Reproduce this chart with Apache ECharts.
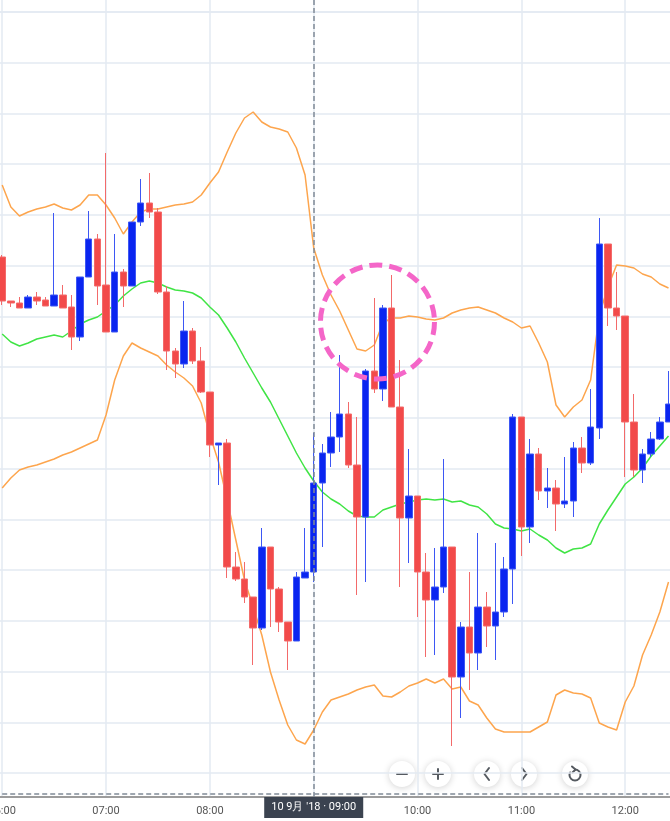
<!DOCTYPE html>
<html>
<head>
<meta charset="utf-8">
<script src="https://cdn.jsdelivr.net/npm/echarts@6/dist/echarts.min.js"></script>
<style>
html,body{margin:0;padding:0;background:#fff;}
#main{width:670px;height:821px;}
</style>
</head>
<body>
<div id="main"></div>
<script>
const categories = [
'06:00','06:05','06:10','06:15','06:20','06:25','06:30','06:35','06:40','06:45','06:50','06:55',
'07:00','07:05','07:10','07:15','07:20','07:25','07:30','07:35','07:40','07:45','07:50','07:55',
'08:00','08:05','08:10','08:15','08:20','08:25','08:30','08:35','08:40','08:45','08:50','08:55',
'09:00','09:05','09:10','09:15','09:20','09:25','09:30','09:35','09:40','09:45','09:50','09:55',
'10:00','10:05','10:10','10:15','10:20','10:25','10:30','10:35','10:40','10:45','10:50','10:55',
'11:00','11:05','11:10','11:15','11:20','11:25','11:30','11:35','11:40','11:45','11:50','11:55',
'12:00','12:05','12:10','12:15','12:20','12:25'];

const opens = [111.743,111.699,111.697,111.692,111.703,111.700,111.694,111.705,111.693,111.663,
111.723,111.761,111.715,111.668,111.728,111.714,111.778,111.797,111.788,111.708,
111.649,111.636,111.669,111.639,111.608,111.555,111.557,111.433,111.421,111.403,
111.372,111.453,111.411,111.378,111.359,111.422,111.428,111.517,111.547,111.563,
111.586,111.535,111.483,111.629,111.611,111.692,111.593,111.482,111.504,111.428,
111.400,111.413,111.453,111.323,111.373,111.347,111.393,111.374,111.388,111.431,
111.583,111.473,111.546,111.509,111.512,111.496,111.499,111.552,111.537,111.572,
111.756,111.692,111.684,111.578,111.530,111.546,111.561,111.578];

const closes = [111.699,111.697,111.692,111.703,111.699,111.694,111.705,111.692,111.663,111.723,
111.761,111.714,111.668,111.728,111.714,111.778,111.797,111.788,111.708,111.649,
111.636,111.669,111.639,111.608,111.555,111.557,111.433,111.421,111.403,111.372,
111.453,111.411,111.378,111.359,111.423,111.428,111.517,111.547,111.563,111.586,
111.535,111.483,111.629,111.611,111.692,111.593,111.482,111.504,111.428,111.400,
111.413,111.453,111.323,111.373,111.347,111.393,111.374,111.388,111.431,111.583,
111.473,111.546,111.509,111.512,111.496,111.499,111.552,111.537,111.573,111.756,
111.692,111.684,111.578,111.530,111.546,111.561,111.578,111.596];

const highs = [111.745,111.699,111.703,111.705,111.708,111.703,111.787,111.715,111.705,111.723,
111.789,111.766,111.847,111.766,111.731,111.778,111.821,111.827,111.792,111.714,
111.652,111.699,111.672,111.653,111.608,111.557,111.561,111.448,111.438,111.403,
111.472,111.453,111.413,111.378,111.428,111.472,111.567,111.556,111.588,111.645,
111.598,111.583,111.631,111.702,111.695,111.725,111.640,111.551,111.504,111.447,
111.452,111.541,111.453,111.378,111.428,111.467,111.408,111.457,111.443,111.586,
111.583,111.561,111.552,111.532,111.520,111.543,111.558,111.563,111.611,111.782,
111.756,111.728,111.684,111.606,111.551,111.568,111.583,111.629];

const lows = [111.695,111.693,111.692,111.692,111.695,111.694,111.694,111.692,111.650,111.659,
111.723,111.695,111.668,111.668,111.693,111.714,111.774,111.782,111.706,111.630,
111.622,111.632,111.636,111.607,111.543,111.515,111.422,111.419,111.397,111.335,
111.370,111.373,111.368,111.330,111.359,111.422,111.418,111.453,111.533,111.548,
111.532,111.405,111.418,111.607,111.599,111.593,111.413,111.437,111.383,111.343,
111.345,111.407,111.254,111.282,111.310,111.330,111.353,111.340,111.383,111.396,
111.444,111.457,111.500,111.492,111.469,111.492,111.483,111.527,111.535,111.561,
111.674,111.670,111.523,111.523,111.517,111.543,111.560,111.578];

const upperBand = [111.815,111.793,111.784,111.788,111.791,111.793,111.796,111.792,111.790,111.795,
111.805,111.805,111.795,111.782,111.766,111.778,111.788,111.791,111.791,111.793,
111.795,111.796,111.798,111.805,111.817,111.828,111.848,111.867,111.882,111.888,
111.878,111.873,111.871,111.868,111.852,111.825,111.752,111.725,111.705,111.689,
111.670,111.651,111.649,111.655,111.677,111.682,111.682,111.684,111.683,111.681,
111.680,111.682,111.687,111.690,111.692,111.693,111.690,111.687,111.682,111.678,
111.672,111.674,111.657,111.638,111.595,111.583,111.593,111.600,111.620,111.685,
111.713,111.735,111.734,111.732,111.726,111.723,111.716,111.712];

const middleBand = [111.666,111.658,111.654,111.657,111.661,111.663,111.665,111.663,111.669,111.676,
111.680,111.683,111.689,111.695,111.704,111.711,111.717,111.719,111.717,111.713,
111.710,111.709,111.707,111.702,111.693,111.685,111.672,111.658,111.642,111.627,
111.612,111.598,111.581,111.564,111.547,111.532,111.519,111.508,111.501,111.496,
111.489,111.484,111.483,111.483,111.490,111.493,111.496,111.498,111.500,111.501,
111.500,111.501,111.498,111.499,111.495,111.493,111.486,111.476,111.472,111.471,
111.469,111.471,111.465,111.460,111.452,111.447,111.451,111.452,111.456,111.476,
111.490,111.503,111.516,111.523,111.532,111.544,111.554,111.564];

const lowerBand = [111.512,111.522,111.530,111.533,111.535,111.538,111.541,111.545,111.548,111.552,
111.556,111.560,111.585,111.620,111.644,111.657,111.652,111.648,111.644,111.635,
111.628,111.622,111.614,111.597,111.565,111.538,111.500,111.460,111.420,111.393,
111.365,111.328,111.300,111.275,111.260,111.256,111.270,111.288,111.300,111.303,
111.306,111.310,111.313,111.315,111.304,111.303,111.308,111.314,111.317,111.321,
111.317,111.321,111.311,111.313,111.299,111.295,111.282,111.271,111.268,111.268,
111.268,111.268,111.273,111.278,111.305,111.310,111.307,111.306,111.302,111.277,
111.273,111.270,111.298,111.314,111.345,111.365,111.388,111.418];

const crosshairIndex = 36;
const crosshairLabel = "10 9月 '18 · 09:00";
const highlight = { index: 43.37, price: 111.678 };

const priceMin = 111.227, priceMax = 111.988, priceStep = 0.0507333333333;

const candleData = categories.map((c, i) => [opens[i], closes[i], lows[i], highs[i]]);

const chart = echarts.init(document.getElementById('main'), null, {renderer: 'canvas'});

const gridColor = '#e3eaf2';

function button(x, y, children) {
  return {
    type: 'group', x: x, y: y, z: 200,
    children: [{
      type: 'circle', shape: {cx: 0, cy: 0, r: 13},
      style: {fill: '#fff', shadowBlur: 7, shadowColor: 'rgba(0,0,0,0.18)', shadowOffsetY: 1}
    }].concat(children)
  };
}
const iconStyle = {stroke: '#555a60', lineWidth: 2, fill: null, lineCap: 'round', lineJoin: 'round'};

chart.setOption({
  animation: false,
  backgroundColor: '#fff',
  grid: [
    {left: 2.2, right: 1.5, top: 0, bottom: 24, containLabel: false, outerBoundsMode: 'none'},
    {left: -2.13, right: -2.83, top: 12, bottom: 48, containLabel: false, outerBoundsMode: 'none'}
  ],
  xAxis: [
    {
      type: 'category', gridIndex: 0, data: categories, boundaryGap: false,
      axisLine: {show: false}, axisTick: {show: false},
      axisLabel: {interval: 11, color: '#555', fontSize: 11, fontFamily: 'Roboto', margin: 9},
      splitLine: {show: true, interval: 11, lineStyle: {color: gridColor, width: 1.5}},
      axisPointer: {
        show: true, status: 'show', value: crosshairIndex, type: 'line', snap: false,
        triggerTooltip: false,
        lineStyle: {color: '#808a96', width: 1.5, type: [5, 3]},
        label: {
          show: true, formatter: function () { return crosshairLabel; },
          backgroundColor: '#3b4350', color: '#fff', fontSize: 11, fontFamily: 'Roboto',
          padding: [5, 7, 5, 7], margin: 0, borderRadius: 0
        }
      }
    },
    {
      type: 'category', gridIndex: 1, data: categories, boundaryGap: true,
      offset: 24,
      axisLine: {show: true, lineStyle: {color: '#9c9c9c', width: 2}},
      axisTick: {show: false}, axisLabel: {show: false}, splitLine: {show: false}
    }
  ],
  yAxis: [
    {
      type: 'value', gridIndex: 0, min: 0, max: 797, inverse: true,
      axisLine: {show: false}, axisTick: {show: false}, axisLabel: {show: false},
      splitLine: {show: false},
      axisPointer: {
        show: true, status: 'show', value: 794, type: 'line', snap: false,
        triggerTooltip: false,
        lineStyle: {color: '#808a96', width: 1.5, type: [5, 3]},
        label: {show: false}
      }
    },
    {
      type: 'value', gridIndex: 1, min: priceMin, max: priceMax, interval: priceStep,
      scale: true,
      axisLine: {show: false}, axisTick: {show: false}, axisLabel: {show: false},
      splitLine: {show: true, lineStyle: {color: gridColor, width: 1.5}}
    }
  ],
  series: [
    {
      type: 'line', xAxisIndex: 1, yAxisIndex: 1, data: upperBand, symbol: 'none',
      lineStyle: {color: '#fda54d', width: 1.5}, z: 3
    },
    {
      type: 'line', xAxisIndex: 1, yAxisIndex: 1, data: lowerBand, symbol: 'none',
      lineStyle: {color: '#fda54d', width: 1.5}, z: 3
    },
    {
      type: 'line', xAxisIndex: 1, yAxisIndex: 1, data: middleBand, symbol: 'none',
      lineStyle: {color: '#40e445', width: 1.5}, z: 3
    },
    {
      type: 'candlestick', xAxisIndex: 1, yAxisIndex: 1, data: candleData,
      barWidth: 7, z: 4,
      itemStyle: {
        color: '#0a25f0', color0: '#f24a4a',
        borderColor: '#3d57f4', borderColor0: '#f36a6a', borderWidth: 1
      }
    }
  ],
  graphic: [
    button(402, 774, [{type: 'line', shape: {x1: -5, y1: 0, x2: 5, y2: 0}, style: iconStyle}]),
    button(438, 774, [
      {type: 'line', shape: {x1: -5, y1: 0, x2: 5, y2: 0}, style: iconStyle},
      {type: 'line', shape: {x1: 0, y1: -5, x2: 0, y2: 5}, style: iconStyle}
    ]),
    button(487, 774, [{type: 'polyline', shape: {points: [[2, -6], [-2.5, 0], [2, 6]]}, style: iconStyle}]),
    button(524, 774, [{type: 'polyline', shape: {points: [[-2, -6], [2.5, 0], [-2, 6]]}, style: iconStyle}]),
    button(575, 774, [
      {type: 'arc', shape: {cx: 0, cy: 1, r: 5.5, startAngle: -Math.PI / 2, endAngle: Math.PI * 1.15, clockwise: true}, style: iconStyle},
      {type: 'polyline', shape: {points: [[-3, -7.5], [0.5, -4.5], [-2.5, -1.5]]}, style: iconStyle}
    ])
  ]
});

// pink dashed highlight circle placed from data coordinates
const i0 = Math.floor(highlight.index), frac = highlight.index - i0;
const pa = chart.convertToPixel({xAxisIndex: 1, yAxisIndex: 1}, [i0, highlight.price]);
const pb = chart.convertToPixel({xAxisIndex: 1, yAxisIndex: 1}, [i0 + 1, highlight.price]);
const cx = pa[0] + frac * (pb[0] - pa[0]);
chart.setOption({
  graphic: [{
    id: 'hl', type: 'circle', z: 150,
    shape: {cx: cx, cy: pa[1], r: 57},
    style: {fill: null, stroke: '#f466c8', lineWidth: 5, lineDash: [13, 7]}
  }]
});
</script>
</body>
</html>
